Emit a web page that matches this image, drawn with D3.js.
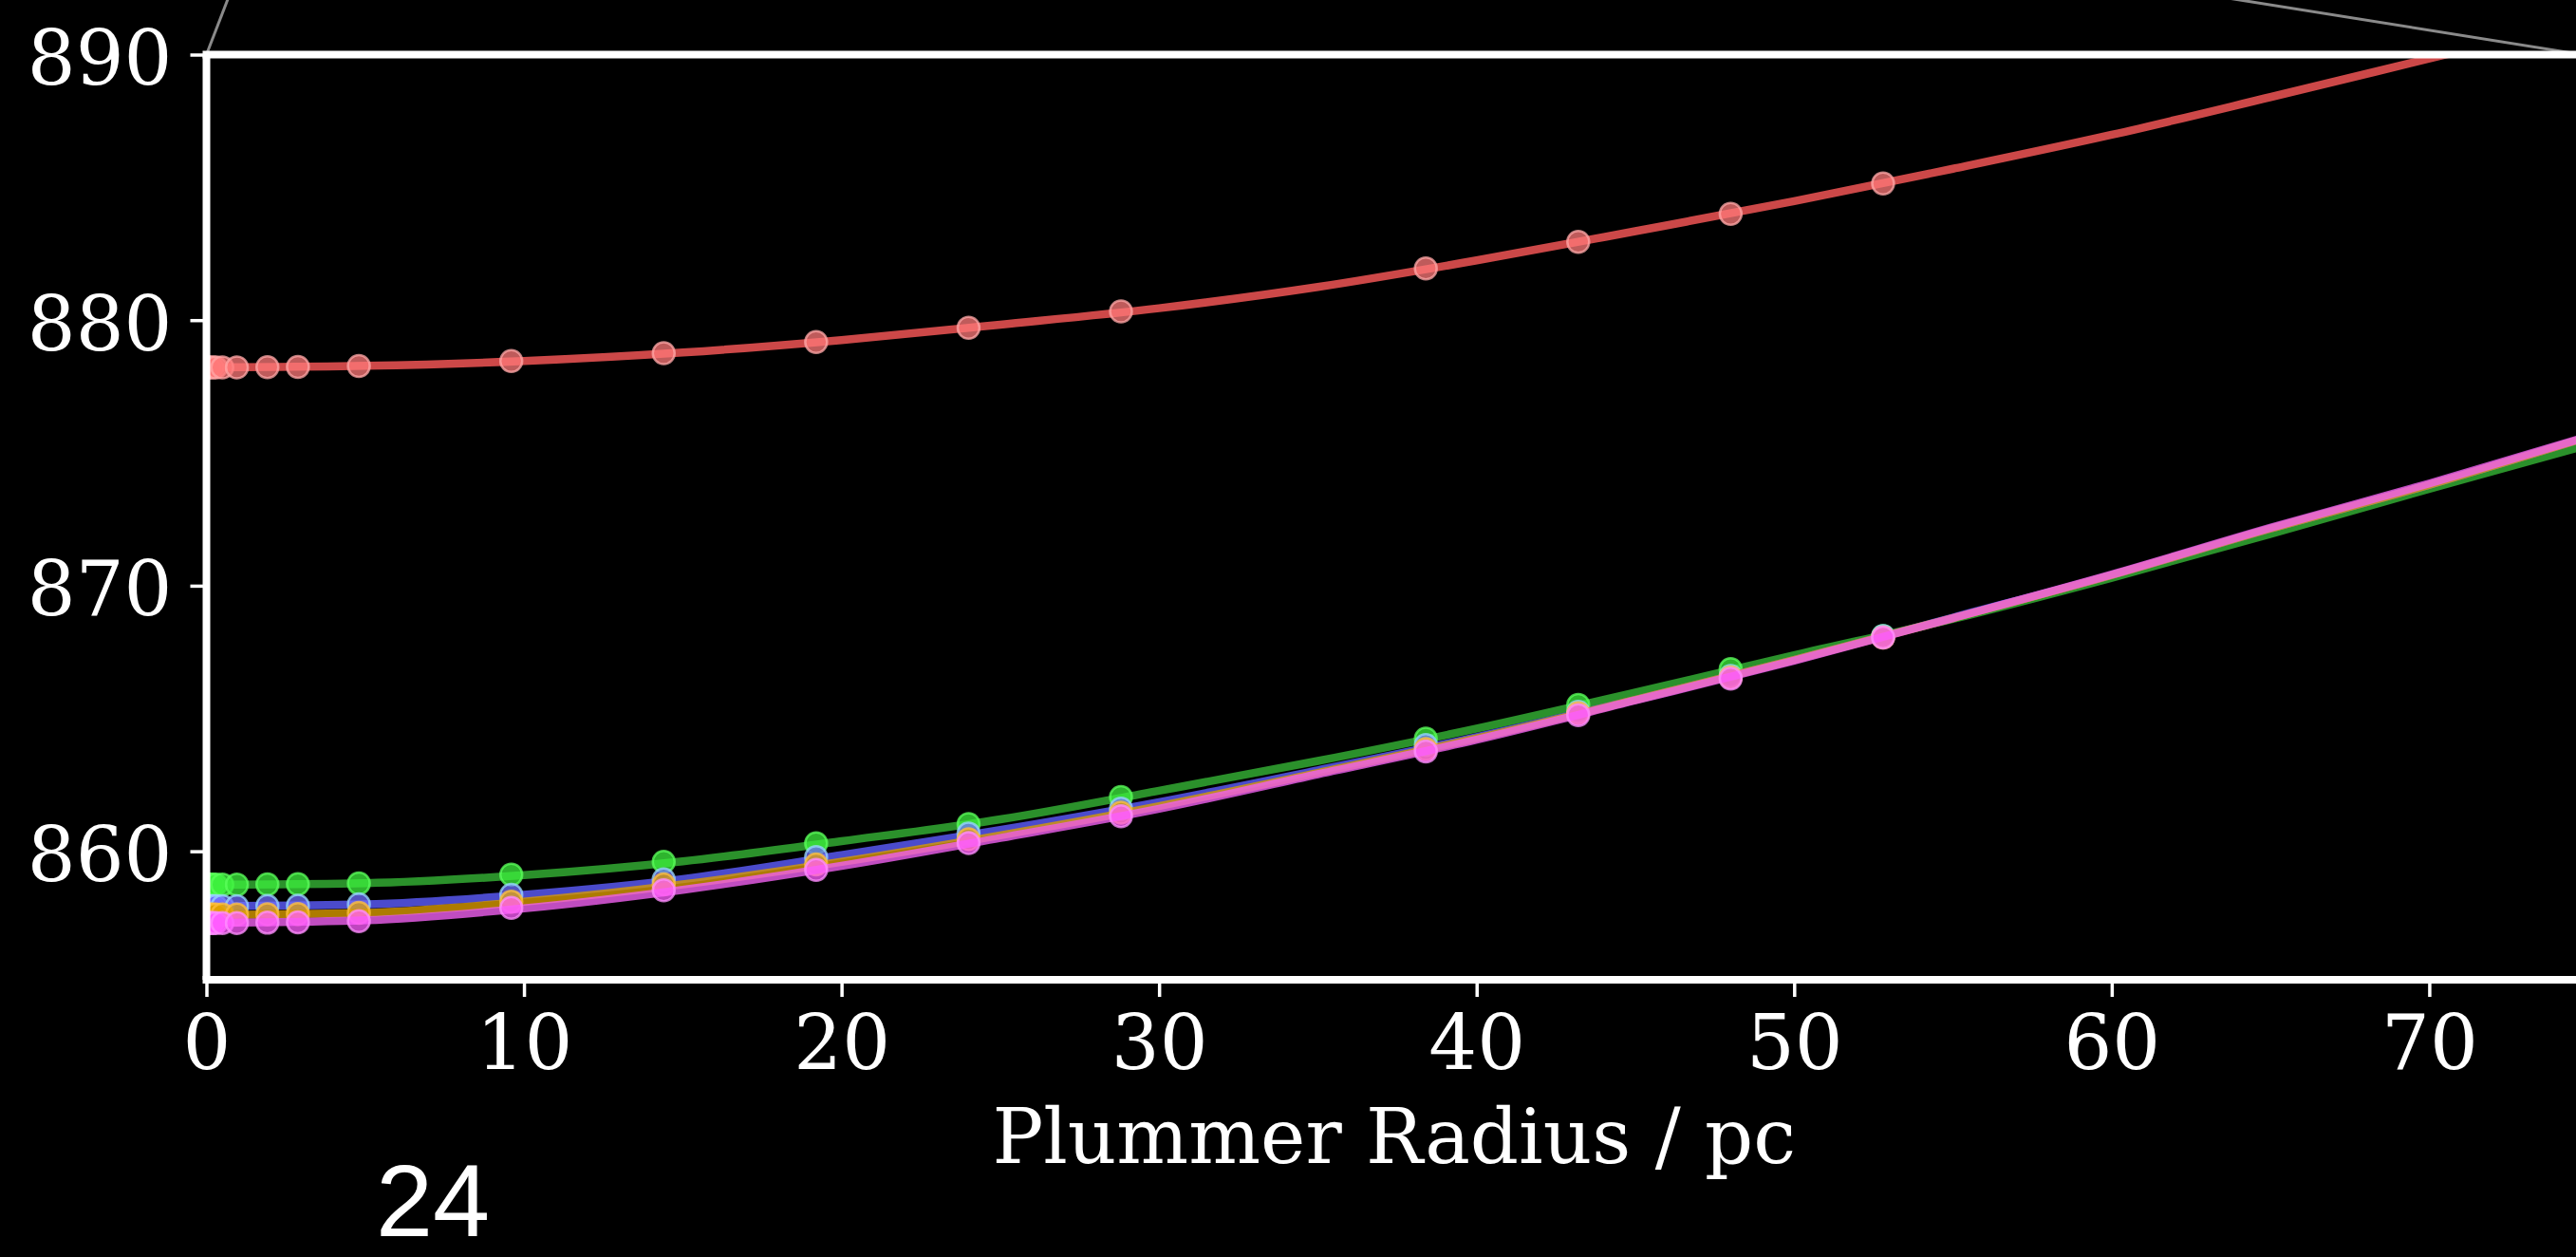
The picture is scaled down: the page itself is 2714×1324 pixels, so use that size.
<!DOCTYPE html>
<html>
<head>
<meta charset="utf-8">
<script src="https://cdn.jsdelivr.net/npm/d3@7"></script>
<style>
  html, body { margin: 0; padding: 0; background: #000; overflow: hidden; }
  svg { display: block; }
</style>
</head>
<body>
<div id="chart"></div>
<script>
// ── Data ───────────────────────────────────────────────────────────────────

// Plummer radius (pc) of the sampled runs
const pointX = [0.05, 0.1, 0.2, 0.3, 0.5, 0.96, 1.92, 2.88, 4.8, 9.6, 14.4, 19.2, 24.0, 28.8, 38.4, 43.2, 48.0, 52.8];

// sampled values per series
const redPts     = [878.22, 878.22, 878.22, 878.22, 878.22, 878.22, 878.23, 878.24, 878.27, 878.46, 878.76, 879.18, 879.71, 880.33, 881.95, 882.95, 884.0, 885.15];
const greenPts   = [858.74, 858.74, 858.74, 858.74, 858.74, 858.74, 858.75, 858.76, 858.79, 859.12, 859.6, 860.3, 861.02, 862.04, 864.24, 865.51, 866.86, 868.1];
const bluePts    = [857.93, 857.93, 857.93, 857.93, 857.93, 857.93, 857.94, 857.95, 858.0, 858.36, 858.94, 859.78, 860.67, 861.6, 864.0, 865.25, 866.6, 868.1];
const orangePts  = [857.62, 857.62, 857.62, 857.62, 857.62, 857.62, 857.63, 857.64, 857.68, 858.1, 858.75, 859.5, 860.45, 861.45, 863.85, 865.2, 866.55, 868.05];
const magentaPts = [857.3, 857.3, 857.3, 857.3, 857.3, 857.3, 857.31, 857.32, 857.37, 857.87, 858.53, 859.3, 860.31, 861.32, 863.76, 865.13, 866.5, 868.05];

// fitted curves, sampled every 5 pc
const fitX       = [0, 5, 10, 15, 20, 25, 30, 35, 40, 45, 50, 55, 60, 65, 70, 75];
const redFit     = [878.22, 878.28, 878.46, 878.78, 879.25, 879.83, 880.45, 881.25, 882.25, 883.35, 884.48, 885.7, 886.98, 888.4, 889.85, 891.3];
const greenFit   = [858.74, 858.8, 859.1, 859.62, 860.38, 861.2, 862.28, 863.4, 864.62, 865.98, 867.38, 868.75, 870.3, 871.95, 873.65, 875.3];
const blueFit    = [857.93, 858.0, 858.36, 858.95, 859.85, 860.8, 861.85, 863.05, 864.3, 865.7, 867.2, 868.8, 870.4, 872.15, 873.8, 875.6];
const orangeFit  = [857.6, 857.68, 858.1, 858.75, 859.6, 860.6, 861.7, 862.95, 864.25, 865.7, 867.2, 868.78, 870.4, 872.15, 873.8, 875.6];
const magentaFit = [857.3, 857.4, 857.85, 858.55, 859.45, 860.5, 861.6, 862.9, 864.2, 865.68, 867.18, 868.78, 870.42, 872.18, 873.85, 875.62];

const xTicks = [0, 10, 20, 30, 40, 50, 60, 70];
const yTicks = [860, 870, 880, 890];
const xLabel = 'Plummer Radius / pc';
const pageNumber = '24';

const series = [
  { pts: redPts,     fit: redFit,     line: '#ff5a5a', fill: '#ff7a7a', edge: '#ffa8a8' },
  { pts: greenPts,   fit: greenFit,   line: '#36b536', fill: '#3ef03e', edge: '#5cff5c' },
  { pts: bluePts,    fit: blueFit,    line: '#5e5eff', fill: '#7070ff', edge: '#9ad8ff' },
  { pts: orangePts,  fit: orangeFit,  line: '#d89a00', fill: '#e0a000', edge: '#ffc040' },
  { pts: magentaPts, fit: magentaFit, line: '#f060f0', fill: '#ff5cff', edge: '#ff90ff' }
];

// ── Layout ─────────────────────────────────────────────────────────────────
const W = 2714, H = 1324;
const box = { left: 217.5, right: 2720, top: 57.5, bottom: 1032 };

const svg = d3.select('#chart').append('svg').attr('width', W).attr('height', H);
svg.append('rect').attr('width', W).attr('height', H).attr('fill', '#000');

const x = d3.scaleLinear().domain([0, 74.8]).range([box.left, box.right]);
const y = d3.scaleLinear().domain([855.16, 890]).range([box.bottom, box.top]);

svg.append('defs').append('clipPath').attr('id', 'clip')
  .append('rect')
  .attr('x', box.left).attr('y', box.top)
  .attr('width', box.right - box.left).attr('height', box.bottom - box.top);

// inset connector lines (go off the top of the picture)
const connectors = [
  [[box.left, box.top], [box.left + 44, box.top - 114]],
  [[box.right, box.top], [box.right - 714, box.top - 114]]
];
svg.selectAll('.conn').data(connectors).enter().append('line')
  .attr('x1', d => d[0][0]).attr('y1', d => d[0][1])
  .attr('x2', d => d[1][0]).attr('y2', d => d[1][1])
  .attr('stroke', '#8a8a8a').attr('stroke-width', 3);

const plot = svg.append('g').attr('clip-path', 'url(#clip)');
const line = d3.line().x(d => x(d[0])).y(d => y(d[1])).curve(d3.curveMonotoneX);

series.forEach(s => {
  plot.append('path')
    .datum(fitX.map((v, i) => [v, s.fit[i]]))
    .attr('d', line)
    .attr('fill', 'none')
    .attr('stroke', s.line)
    .attr('stroke-opacity', 0.8)
    .attr('stroke-width', 8.5);

  plot.selectAll(null).data(pointX.map((v, i) => [v, s.pts[i]])).enter().append('circle')
    .attr('cx', d => x(d[0])).attr('cy', d => y(d[1]))
    .attr('r', 11.5)
    .attr('fill', s.fill).attr('fill-opacity', 0.75)
    .attr('stroke', s.edge).attr('stroke-opacity', 0.75).attr('stroke-width', 2.5);
});

// ── Axes ───────────────────────────────────────────────────────────────────
const font = 'DejaVu Serif, serif';

const xAxis = svg.append('g').attr('transform', `translate(0,${box.bottom})`)
  .call(d3.axisBottom(x).tickValues(xTicks).tickSize(18).tickPadding(0).tickFormat(d3.format('d')));
xAxis.select('.domain').remove();
xAxis.selectAll('line').attr('stroke', '#fff').attr('stroke-width', 3.5);
xAxis.selectAll('text').attr('fill', '#fff').attr('font-family', font).attr('font-size', 80)
  .attr('dy', null).attr('y', 94);

const yAxis = svg.append('g').attr('transform', `translate(${box.left},0)`)
  .call(d3.axisLeft(y).tickValues(yTicks).tickSize(17).tickPadding(0).tickFormat(d3.format('d')));
yAxis.select('.domain').remove();
yAxis.selectAll('line').attr('stroke', '#fff').attr('stroke-width', 3.5);
yAxis.selectAll('text').attr('fill', '#fff').attr('font-family', font).attr('font-size', 80)
  .attr('dy', null).attr('x', -36).attr('y', 31);

// spines (left, top, bottom; right edge is off the picture)
const spines = [
  [box.left, box.top, box.left, box.bottom],
  [box.left - 4, box.top, W + 10, box.top],
  [box.left - 4, box.bottom, W + 10, box.bottom]
];
svg.selectAll('.spine').data(spines).enter().append('line')
  .attr('x1', d => d[0]).attr('y1', d => d[1]).attr('x2', d => d[2]).attr('y2', d => d[3])
  .attr('stroke', '#fff').attr('stroke-width', 8);

svg.append('text')
  .attr('x', (box.left + box.right) / 2).attr('y', 1225)
  .attr('text-anchor', 'middle').attr('fill', '#fff')
  .attr('font-family', font).attr('font-size', 80)
  .text(xLabel);

svg.append('text')
  .attr('x', 396).attr('y', 1302)
  .attr('fill', '#fff')
  .attr('font-family', 'Liberation Sans, sans-serif').attr('font-size', 108)
  .text(pageNumber);
</script>
</body>
</html>
